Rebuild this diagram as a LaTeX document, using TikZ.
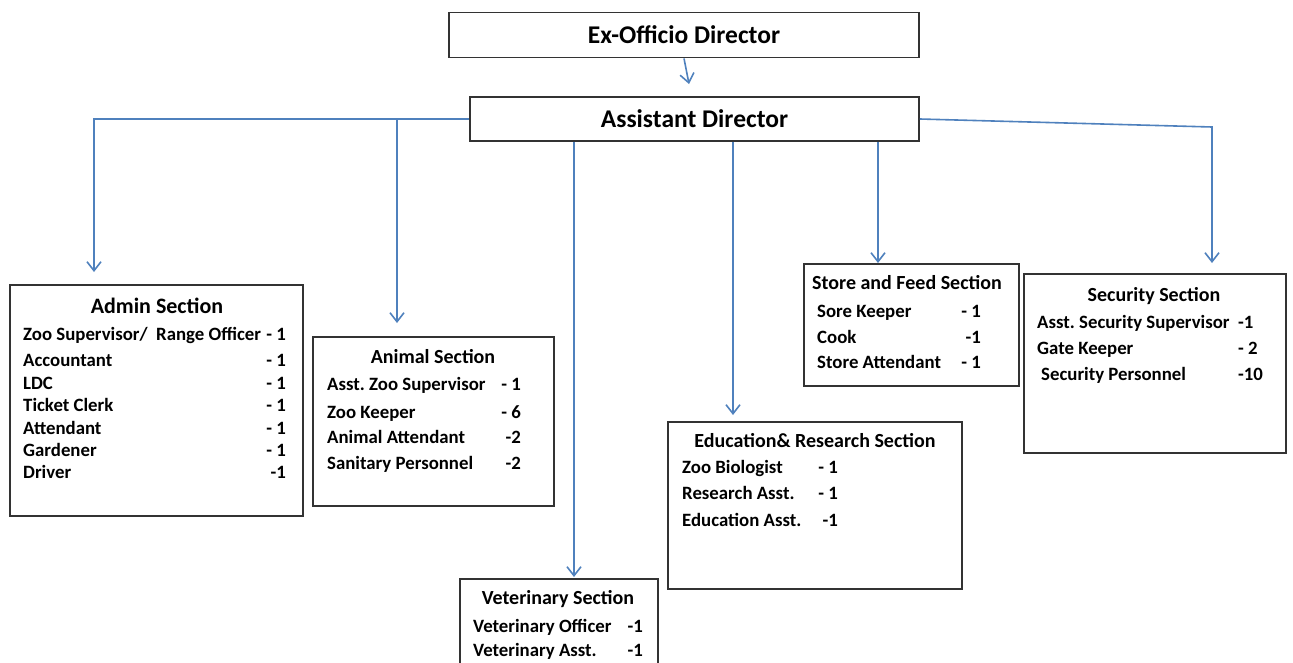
\documentclass[tikz,border=0pt]{standalone}
\usepackage{fontspec}
\setmainfont{Carlito}
\usepackage{xcolor}
\usepackage{tikz}
\usetikzlibrary{arrows.meta}

\definecolor{linkblue}{RGB}{79,129,189}
\frenchspacing

\begin{document}
\begin{tikzpicture}[x=1pt, y=-1pt,
        box/.style={draw=black!80, line width=1.8pt, rectangle, inner sep=0pt},
        link/.style={draw=linkblue, line width=1.6pt, -{Straight Barb[length=9pt,width=14pt]}},
        head/.style={font=\bfseries\fontsize{25.5}{28}\selectfont},
        sectitle/.style={inner sep=0pt, text height=13pt, text depth=0pt, font=\bfseries\fontsize{20}{22}\selectfont},
        rowtxt/.style={anchor=west, inner sep=0pt, text height=12.2pt, text depth=0pt, font=\bfseries\fontsize{18.8}{21}\selectfont},
        rownum/.style={rowtxt, anchor=east}]

        \clip (0,0) rectangle (1293,662);
        \fill[white] (0,0) rectangle (1293,662);

        % Section boxes: name, left, top, right, bottom
        \newcommand{\secbox}[5]{
            \node[box, minimum width={#4-#2}, minimum height={#5-#3}] (#1) at ({(#2+#4)/2},{(#3+#5)/2}) {};
        }

        \node[box, head, minimum width=470, minimum height=45] (ex) at (684,35) {Ex-Officio Director};
        \node[box, head, minimum width=449, minimum height=44] (asst) at (694.5,119) {Assistant Director};

        \secbox{admin}{10}{285}{303}{516}
        \secbox{animal}{313}{337}{554}{506}
        \secbox{vet}{460}{579}{658}{700}
        \secbox{edu}{668}{422}{962}{589}
        \secbox{store}{804}{264}{1019}{386}
        \secbox{security}{1024}{274}{1286}{453}

        % Titles
        \node[sectitle, text height=14pt, font=\bfseries\fontsize{22}{24}\selectfont] (admintitle) at (157,306) {Admin Section};
        \node[sectitle] (animaltitle) at (433,357) {Animal Section};
        \node[sectitle] (vettitle) at (558,598) {Veterinary Section};
        \node[sectitle] (edutitle) at (815,441) {Education\& Research Section};
        \node[sectitle] (storetitle) at (907,283) {Store and Feed Section};
        \node[sectitle] (securitytitle) at (1154,295) {Security Section};

        % Staff rows
        \foreach \lbl/\num/\y [count=\i] in {{Zoo Supervisor/\ \ Range Officer}/- 1/334, Accountant/- 1/360, LDC/- 1/383,
                Ticket Clerk/- 1/405, Attendant/- 1/428, Gardener/- 1/450, Driver/-1/472}{
            \node[rowtxt] (admin-l\i) at (23,\y) {\lbl};
            \node[rownum] (admin-n\i) at (286,\y) {\num};
        }

        \foreach \lbl/\num/\y [count=\i] in {Asst. Zoo Supervisor/- 1/384, Zoo Keeper/- 6/412,
                Animal Attendant/-2/437, Sanitary Personnel/-2/463}{
            \node[rowtxt] (animal-l\i) at (327,\y) {\lbl};
            \node[rownum] (animal-n\i) at (521,\y) {\num};
        }

        \foreach \lbl/\num/\y [count=\i] in {Veterinary Officer/-1/626, Veterinary Asst./-1/650}{
            \node[rowtxt] (vet-l\i) at (473,\y) {\lbl};
            \node[rownum] (vet-n\i) at (643,\y) {\num};
        }

        \foreach \lbl/\num/\y [count=\i] in {Zoo Biologist/- 1/467, Research Asst./- 1/493, Education Asst./-1/520}{
            \node[rowtxt] (edu-l\i) at (682,\y) {\lbl};
            \node[rownum] (edu-n\i) at (838,\y) {\num};
        }

        \foreach \lbl/\num/\y [count=\i] in {Sore Keeper/- 1/311, Cook/-1/337, Store Attendant/- 1/362}{
            \node[rowtxt] (store-l\i) at (817,\y) {\lbl};
            \node[rownum] (store-n\i) at (981,\y) {\num};
        }

        \foreach \lbl/\num/\y/\x [count=\i] in {Asst. Security Supervisor/-1/322/1037, Gate Keeper/- 2/348/1037,
                Security Personnel/-10/374/1041}{
            \node[rowtxt] (security-l\i) at (\x,\y) {\lbl};
            \node[rowtxt] (security-n\i) at (1238,\y) {\num};
        }

        % Connectors
        \coordinate (asstip) at (689,84);
        \coordinate (admintip) at (94,272);
        \coordinate (animaltip) at (397,323);
        \coordinate (vettip) at (574,577);
        \coordinate (edutip) at (733,415);
        \coordinate (storetip) at (878,263);
        \coordinate (secbend) at (1212,127);
        \coordinate (sectip) at (1212,263);

        \draw[link] (ex.south) -- (asstip);
        \draw[link] (asst.west) -| (admintip);
        \draw[link] (asst.west -| animaltip) -- (animaltip);
        \draw[link] (asst.south -| vettip) -- (vettip);
        \draw[link] (asst.south -| edutip) -- (edutip);
        \draw[link] (asst.south -| storetip) -- (storetip);
        \draw[link] (asst.east) -- (secbend) -- (sectip);

\end{tikzpicture}
\end{document}
